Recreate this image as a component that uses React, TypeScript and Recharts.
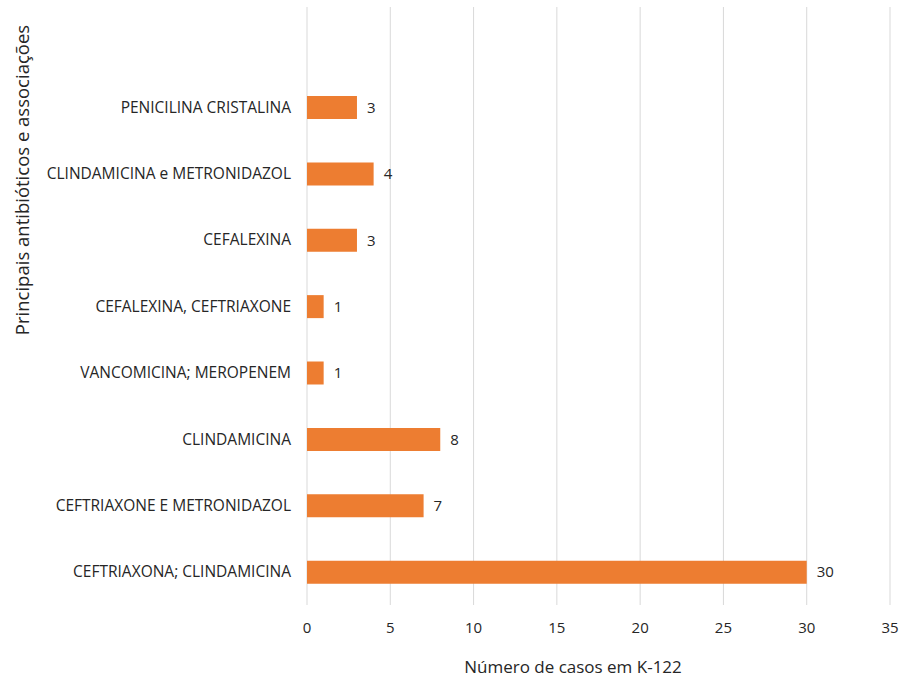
import React from 'react';
import { BarChart, Bar, XAxis, YAxis, CartesianGrid, LabelList } from 'recharts';

const categories = [
  'PENICILINA CRISTALINA',
  'CLINDAMICINA e METRONIDAZOL',
  'CEFALEXINA',
  'CEFALEXINA, CEFTRIAXONE',
  'VANCOMICINA; MEROPENEM',
  'CLINDAMICINA',
  'CEFTRIAXONE E METRONIDAZOL',
  'CEFTRIAXONA; CLINDAMICINA',
];
const casos = [3, 4, 3, 1, 1, 8, 7, 30];
const xTicks = [0, 5, 10, 15, 20, 25, 30, 35];

const data = categories.map((name, i) => ({ name, casos: casos[i] }));

const FONT = '"Open Sans", "Liberation Sans", sans-serif';
const TEXT = '#262626';

export default function App() {
  return (
    <div style={{ position: 'absolute', left: 0, top: 0, background: '#fff' }}>
      <BarChart
        width={904}
        height={684}
        data={data}
        layout="vertical"
        margin={{ top: 7, right: 14, left: 0, bottom: 0 }}
        barSize={23}
      >
        <CartesianGrid horizontal={false} stroke="#d9d9d9" />
        <XAxis
          type="number"
          domain={[0, 35]}
          ticks={xTicks}
          axisLine={false}
          tickLine={false}
          tickMargin={11}
          height={79}
          tick={{ fill: TEXT, fontSize: 15, fontFamily: FONT }}
          label={{
            content: () => (
              <text x={573} y={673} textAnchor="middle" fill={TEXT} fontSize={17} fontFamily={FONT}>
                Número de casos em K-122
              </text>
            ),
          }}
        />
        <YAxis
          type="category"
          dataKey="name"
          width={307}
          axisLine={false}
          tickLine={false}
          tickMargin={10}
          padding={{ top: 67, bottom: 0 }}
          interval={0}
          tick={{ fill: TEXT, fontSize: 15.5, fontFamily: FONT }}
          label={{
            content: () => (
              <text
                x={24}
                y={180}
                textAnchor="middle"
                dominantBaseline="middle"
                transform="rotate(-90 24 180)"
                fill={TEXT}
                fontSize={18.5}
                fontFamily={FONT}
              >
                Principais antibióticos e associações
              </text>
            ),
          }}
        />
        <Bar dataKey="casos" fill="#ED7D31" isAnimationActive={false}>
          <LabelList dataKey="casos" position="right" offset={10} fill={TEXT} fontSize={15} fontFamily={FONT} />
        </Bar>
      </BarChart>
    </div>
  );
}
